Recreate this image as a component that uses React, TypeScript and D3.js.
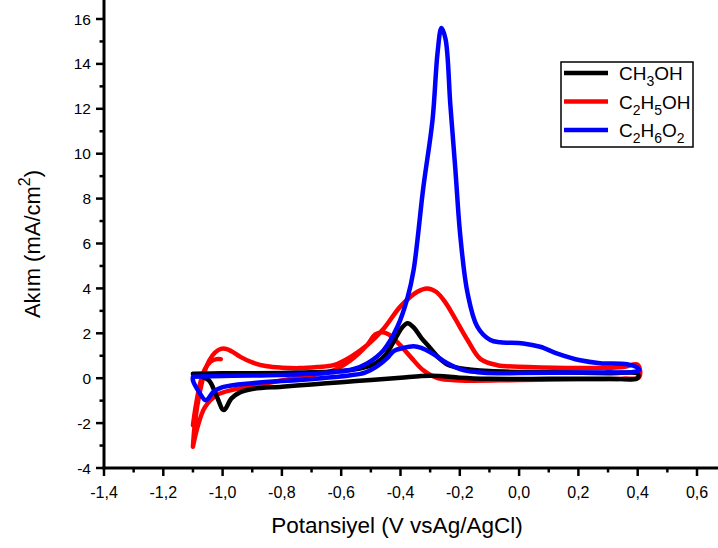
import React from "react";
import * as d3 from "d3";

// ---- Data (potential V vs Ag/AgCl, current mA/cm2) ----
const methanolV = [-1.1, -1.0, -0.9, -0.8, -0.7, -0.6, -0.53, -0.48, -0.45, -0.42, -0.395, -0.376, -0.355, -0.33, -0.3, -0.27, -0.24, -0.2, -0.1, 0.1, 0.3, 0.4,
  0.4, 0.3, 0.1, -0.1, -0.2, -0.27, -0.33, -0.4, -0.5, -0.6, -0.7, -0.8, -0.9, -0.94, -0.97, -0.996, -1.02, -1.046, -1.075, -1.1];
const methanolI = [0.2, 0.22, 0.22, 0.23, 0.26, 0.32, 0.45, 0.7, 1.05, 1.7, 2.25, 2.45, 2.25, 1.8, 1.35, 0.9, 0.6, 0.45, 0.32, 0.27, 0.22, 0.2,
  0.0, -0.02, -0.03, -0.03, 0.02, 0.1, 0.1, 0.02, -0.08, -0.18, -0.28, -0.38, -0.48, -0.62, -0.9, -1.42, -0.8, -0.1, 0.1, 0.2];

const ethanolV = [-1.1, -1.095, -1.085, -1.07, -1.055, -1.035, -1.015, -0.996, -0.97, -0.94, -0.9, -0.85, -0.8, -0.74, -0.68, -0.626, -0.568, -0.51, -0.457, -0.4, -0.343, -0.31, -0.28, -0.25, -0.222, -0.174, -0.13, -0.073, 0.03, 0.2, 0.35, 0.4,
  0.405, 0.35, 0.2, 0.0, -0.2, -0.275, -0.323, -0.366, -0.41, -0.44, -0.46, -0.485, -0.511, -0.568, -0.626, -0.737, -0.82, -0.9, -0.96, -1.02, -1.06, -1.085, -1.1];
const ethanolI = [-3.05, -2.2, -1.2, -0.2, 0.5, 1.0, 1.25, 1.32, 1.2, 0.95, 0.7, 0.53, 0.47, 0.45, 0.5, 0.58, 0.95, 1.5, 2.2, 3.2, 3.85, 4.0, 3.85, 3.4, 2.8, 1.7, 0.85, 0.58, 0.5, 0.45, 0.5, 0.6,
  0.05, -0.02, -0.05, -0.08, -0.1, 0.0, 0.35, 0.95, 1.6, 1.95, 2.05, 1.95, 1.5, 0.8, 0.35, 0.05, -0.15, -0.35, -0.5, -0.75, -1.3, -2.2, -3.05];

// second-cycle start fragment of the ethanol curve
const ethanolStartV = [-1.1, -1.09, -1.075, -1.06, -1.04, -1.02, -1.006];
const ethanolStartI = [-2.1, -1.2, -0.2, 0.4, 0.75, 0.85, 0.85];

const glycolV = [-1.1, -1.0, -0.9, -0.74, -0.626, -0.56, -0.511, -0.457, -0.41, -0.376, -0.356, -0.323, -0.292, -0.275, -0.262, -0.248, -0.232, -0.215, -0.198, -0.174, -0.141, -0.097, -0.063, 0.014, 0.071, 0.129, 0.206, 0.273, 0.364, 0.395, 0.405,
  0.38, 0.3, 0.2, 0.0, -0.073, -0.14, -0.188, -0.242, -0.299, -0.33, -0.356, -0.39, -0.424, -0.444, -0.477, -0.52, -0.568, -0.65, -0.74, -0.9, -1.0, -1.03, -1.057, -1.08, -1.1, -1.1];
const glycolI = [0.06, 0.1, 0.12, 0.18, 0.27, 0.4, 0.67, 1.25, 2.3, 3.6, 4.8, 8.5, 11.5, 14.5, 15.6, 15.1, 12.2, 9.3, 6.3, 3.8, 2.3, 1.7, 1.6, 1.55, 1.4, 1.1, 0.8, 0.67, 0.62, 0.5, 0.35,
  0.27, 0.26, 0.25, 0.23, 0.22, 0.27, 0.36, 0.67, 1.15, 1.35, 1.42, 1.35, 1.2, 0.9, 0.55, 0.25, 0.13, 0.02, -0.08, -0.22, -0.4, -0.6, -0.98, -0.6, -0.1, 0.06];

const xMajorTicks = [-1.4, -1.2, -1.0, -0.8, -0.6, -0.4, -0.2, 0.0, 0.2, 0.4, 0.6];
const xMinorTicks = [-1.3, -1.1, -0.9, -0.7, -0.5, -0.3, -0.1, 0.1, 0.3, 0.5];
const yMajorTicks = [-4, -2, 0, 2, 4, 6, 8, 10, 12, 14, 16];
const yMinorTicks = [-3, -1, 1, 3, 5, 7, 9, 11, 13, 15];

const FONT = "'Liberation Sans', Arial, sans-serif";

const fmt = (v: number) => v.toFixed(1).replace(".", ",").replace("-0,0", "0,0");

export default function App() {
  const W = 718, H = 548;
  const x = d3.scaleLinear().domain([-1.4, 0.6]).range([104, 697]);
  const y = d3.scaleLinear().domain([-4, 16]).range([468, 19]);
  const x0 = 104, y0 = 468;

  const line = d3
    .line<[number, number]>()
    .x((d) => x(d[0]))
    .y((d) => y(d[1]))
    .curve(d3.curveCatmullRom.alpha(0.5));

  const zip = (a: number[], b: number[]) => a.map((v, i) => [v, b[i]] as [number, number]);

  const series = [
    { pts: zip(ethanolV, ethanolI), color: "#ff0000" },
    { pts: zip(ethanolStartV, ethanolStartI), color: "#ff0000" },
    { pts: zip(methanolV, methanolI), color: "#000000" },
    { pts: zip(glycolV, glycolI), color: "#0000ff" },
  ];

  const legend = [
    { color: "#000000", parts: [["CH", 0], ["3", 1], ["OH", 0]] },
    { color: "#ff0000", parts: [["C", 0], ["2", 1], ["H", 0], ["5", 1], ["OH", 0]] },
    { color: "#0000ff", parts: [["C", 0], ["2", 1], ["H", 0], ["6", 1], ["O", 0], ["2", 1]] },
  ];

  return (
    <svg width={W} height={H} style={{ position: "absolute", left: 0, top: 0, background: "#fff" }} fontFamily={FONT}>
      {/* curves */}
      {series.map((s, i) => (
        <path key={i} d={line(s.pts) || ""} fill="none" stroke={s.color} strokeWidth={4.5} strokeLinejoin="round" strokeLinecap="round" />
      ))}

      {/* y axis */}
      <line x1={x0} x2={x0} y1={0} y2={y0 + 1.5} stroke="#000" strokeWidth={3} />
      {yMajorTicks.map((t) => (
        <g key={"ym" + t}>
          <line x1={x0 - 8} x2={x0} y1={y(t)} y2={y(t)} stroke="#000" strokeWidth={2.5} />
          <text x={x0 - 13} y={y(t)} dy="0.36em" textAnchor="end" fontSize={15.5}>{t}</text>
        </g>
      ))}
      {yMinorTicks.map((t) => (
        <line key={"yn" + t} x1={x0 - 4.5} x2={x0} y1={y(t)} y2={y(t)} stroke="#000" strokeWidth={2.5} />
      ))}

      {/* x axis */}
      <line x1={x0 - 1.5} x2={W} y1={y0} y2={y0} stroke="#000" strokeWidth={3} />
      {xMajorTicks.map((t) => (
        <g key={"xm" + t}>
          <line x1={x(t)} x2={x(t)} y1={y0} y2={y0 + 8} stroke="#000" strokeWidth={2.5} />
          <text x={x(t)} y={y0 + 30} textAnchor="middle" fontSize={16}>{fmt(t)}</text>
        </g>
      ))}
      {xMinorTicks.map((t) => (
        <line key={"xn" + t} x1={x(t)} x2={x(t)} y1={y0} y2={y0 + 4.5} stroke="#000" strokeWidth={2.5} />
      ))}

      {/* axis titles */}
      <text x={397} y={533} textAnchor="middle" fontSize={22.5}>Potansiyel (V vsAg/AgCl)</text>
      <text transform="translate(40,244) rotate(-90)" textAnchor="middle" fontSize={22}>
        Akım (mA/cm<tspan dy={-10} fontSize={16}>2</tspan><tspan dy={10}>)</tspan>
      </text>

      {/* legend */}
      <rect x={561} y={62} width={132} height={85} fill="#fff" stroke="#000" strokeWidth={1.5} />
      {legend.map((l, i) => {
        const ly = 73 + i * 28.5;
        let shift = 0;
        return (
          <g key={"lg" + i}>
            <line x1={564} x2={608} y1={ly} y2={ly} stroke={l.color} strokeWidth={4.5} />
            <text x={619} y={ly + 7} fontSize={19}>
              {l.parts.map((p, j) => {
                const sub = p[1] === 1;
                const dy = sub ? 6 - shift : 0 - shift;
                shift = sub ? 6 : 0;
                return (
                  <tspan key={j} dy={dy} fontSize={sub ? 14 : 19}>{p[0] as string}</tspan>
                );
              })}
            </text>
          </g>
        );
      })}
    </svg>
  );
}
